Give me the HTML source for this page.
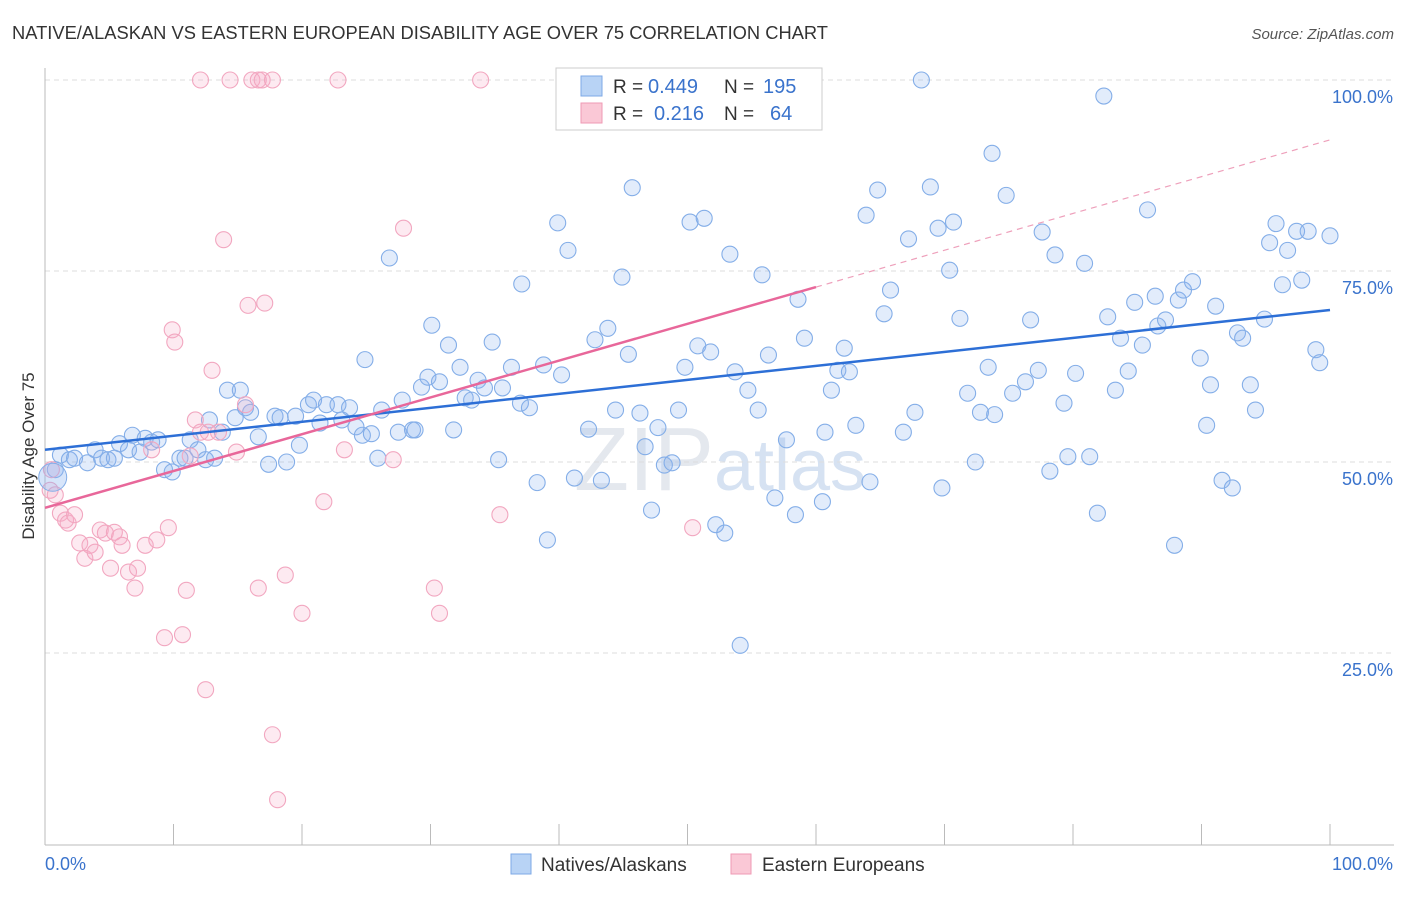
<!DOCTYPE html>
<html><head><meta charset="utf-8"><style>
body{margin:0;background:#fff;font-family:"Liberation Sans",sans-serif}
svg text{font-family:"Liberation Sans",sans-serif}
</style></head><body>
<svg id="chart" width="1406" height="892" xmlns="http://www.w3.org/2000/svg">
<text x="12" y="39" font-size="18" fill="#333" textLength="816" lengthAdjust="spacingAndGlyphs">NATIVE/ALASKAN VS EASTERN EUROPEAN DISABILITY AGE OVER 75 CORRELATION CHART</text>
<text x="1394" y="39" font-size="15" fill="#555" text-anchor="end" font-style="italic">Source: ZipAtlas.com</text>
<text x="720" y="490" font-size="90" fill="#e4e8ee" text-anchor="middle" font-family="Liberation Serif">ZIP<tspan fill="#d6e2f2" font-family="Liberation Sans" font-size="72">atlas</tspan></text>
<g id="grid"></g>
<g id="axes"></g>
<g id="pts"></g>
<g id="lines"></g>
<text transform="translate(34,456) rotate(-90)" font-size="17" fill="#333" text-anchor="middle">Disability Age Over 75</text>
<g>
<rect x="556" y="68" width="266" height="62" fill="#fff" stroke="#ccc"/>
<rect x="581" y="76" width="21" height="20" fill="#b8d3f5" stroke="#7ea8e6"/>
<rect x="581" y="103" width="21" height="20" fill="#fac8d6" stroke="#ef9ab4"/>
<text x="613" y="93" font-size="19" fill="#333">R =</text>
<text x="648" y="93" font-size="20" fill="#3a73cc">0.449</text>
<text x="724" y="93" font-size="19" fill="#333">N =</text>
<text x="763" y="93" font-size="20" fill="#3a73cc">195</text>
<text x="613" y="120" font-size="19" fill="#333">R =</text>
<text x="654" y="120" font-size="20" fill="#3a73cc">0.216</text>
<text x="724" y="120" font-size="19" fill="#333">N =</text>
<text x="770" y="120" font-size="20" fill="#3a73cc">64</text>
</g>
<g>
<rect x="511" y="854" width="20" height="20" fill="#b8d3f5" stroke="#7ea8e6"/>
<text x="541" y="871" font-size="19" fill="#333">Natives/Alaskans</text>
<rect x="731" y="854" width="20" height="20" fill="#fac8d6" stroke="#ef9ab4"/>
<text x="762" y="871" font-size="19" fill="#333">Eastern Europeans</text>
</g>
</svg>
<script>
const blueX=[0.8,1.2,1.9,2.3,3.3,3.9,4.4,4.9,5.4,5.8,6.5,6.8,7.4,7.8,8.3,8.8,9.3,9.9,10.5,10.9,11.3,11.9,12.5,12.8,13.2,13.8,14.2,14.8,15.2,15.6,16.0,16.6,17.4,17.9,18.3,18.8,19.5,19.8,20.5,20.9,21.4,21.9,22.8,23.1,23.7,24.2,24.7,24.9,25.4,25.9,26.2,26.8,27.5,27.8,28.6,28.8,29.3,29.8,30.1,30.7,31.4,31.8,32.3,32.7,33.2,33.7,34.2,34.8,35.3,35.6,36.3,37.0,37.1,37.7,38.3,38.8,39.1,39.9,40.2,40.7,41.2,42.3,42.8,43.3,43.8,44.4,44.9,45.4,45.7,46.3,46.7,47.2,47.7,48.2,48.8,49.3,49.8,50.2,50.8,51.3,51.8,52.2,52.9,53.3,53.7,54.1,54.7,55.5,55.8,56.3,56.8,57.7,58.4,58.6,59.1,60.5,60.7,61.2,61.7,62.2,62.6,63.1,63.9,64.2,64.8,65.3,65.8,66.8,67.2,67.7,68.2,68.9,69.5,69.8,70.4,70.7,71.2,71.8,72.4,72.8,73.4,73.9,73.7,74.8,75.3,76.3,76.7,77.3,77.6,78.2,78.6,79.3,79.6,80.2,80.9,81.3,81.9,82.4,82.7,83.3,83.7,84.3,84.8,85.4,85.8,86.4,86.6,87.2,87.9,88.2,88.6,89.3,89.9,90.4,90.7,91.1,91.6,92.4,92.8,93.2,93.8,94.2,94.9,95.3,95.8,96.3,96.7,97.4,97.8,98.3,98.9,99.2,100];
const blueY=[49.0,50.9,50.3,50.5,49.9,51.6,50.5,50.3,50.5,52.4,51.6,53.5,51.3,53.1,52.6,52.9,49.0,48.7,50.5,50.5,52.9,51.6,50.3,55.5,50.5,53.9,59.4,55.8,59.4,57.1,56.5,53.3,49.7,56.0,55.8,50.0,56.0,52.2,57.5,58.1,55.1,57.5,57.5,55.5,57.1,54.6,53.5,63.4,53.7,50.5,56.8,76.7,53.9,58.1,54.2,54.2,59.8,61.1,67.9,60.5,65.3,54.2,62.4,58.4,58.1,60.7,59.7,65.7,50.3,59.7,62.4,57.7,73.3,57.1,47.3,62.7,39.8,81.3,61.4,77.7,47.9,54.3,66.0,47.6,67.5,56.8,74.2,64.1,85.9,56.4,52.0,43.7,54.5,49.6,49.9,56.8,62.4,81.4,65.2,81.9,64.4,41.8,40.7,77.2,61.8,26.0,59.4,56.8,74.5,64.0,45.3,52.9,43.1,71.3,66.2,44.8,53.9,59.4,62.0,64.9,61.8,54.8,82.3,47.4,85.6,69.4,72.5,53.9,79.2,56.5,100,86.0,80.6,46.6,75.1,81.4,68.8,59.0,50.0,56.5,62.4,56.2,90.4,84.9,59.0,60.5,68.6,62.0,80.1,48.8,77.1,57.7,50.7,61.6,76.0,50.7,43.3,97.9,69.0,59.4,66.2,61.9,70.9,65.3,83.0,71.7,67.8,68.6,39.1,71.2,72.5,73.6,63.6,54.8,60.1,70.4,47.6,46.6,66.9,66.2,60.1,56.8,68.7,78.7,81.2,73.2,77.7,80.2,73.8,80.2,64.7,63.0,79.6];
const pinkX=[0.4,0.5,0.8,1.2,1.6,1.8,2.3,2.7,3.1,3.5,3.9,4.3,4.7,5.1,5.4,5.8,6.0,6.5,7.0,7.2,7.8,8.3,8.7,9.3,9.6,9.9,10.1,10.7,11.0,11.3,11.7,12.1,12.5,12.7,13.0,13.5,13.9,14.9,15.6,15.8,16.6,17.1,17.7,18.1,18.7,20.0,21.7,23.3,27.1,27.9,30.3,30.7,35.4,50.4,12.1,14.4,16.1,16.6,16.9,17.7,22.8,33.9];
const pinkY=[46.3,49.0,45.7,43.3,42.4,42.0,43.1,39.4,37.4,39.1,38.2,41.1,40.7,36.1,40.8,40.2,39.1,35.6,33.5,36.1,39.1,51.6,39.8,27.0,41.4,67.3,65.7,27.4,33.2,50.8,55.5,53.9,20.2,53.9,62.0,53.9,79.1,51.3,57.5,70.5,33.5,70.8,14.3,5.8,35.2,30.2,44.8,51.6,50.3,80.6,33.5,30.2,43.1,41.4,100,100,100,100,100,100,100,100];
const yTicks=[25,50,75,100];
const yTickLabels=["25.0%","50.0%","75.0%","100.0%"];
const xTicks=[0,10,20,30,40,50,60,70,80,90,100];
const blueTrend=[51.6,69.9];
const pinkTrend=[44.0,72.9,60];
const NS="http://www.w3.org/2000/svg";
const X0=45,X1=1330,Y0=844,Y1=80;
const sx=v=>X0+(X1-X0)*v/100;
const sy=v=>Y0-(Y0-Y1)*v/100;
function mk(tag,attrs,parent){const e=document.createElementNS(NS,tag);for(const k in attrs)e.setAttribute(k,attrs[k]);parent.appendChild(e);return e;}
const grid=document.getElementById('grid'),axes=document.getElementById('axes'),pts=document.getElementById('pts'),lines=document.getElementById('lines');
yTicks.forEach((t,i)=>{
 const l=mk('line',{x1:X0,x2:1394,y1:sy(t),y2:sy(t),stroke:'#ddd','stroke-dasharray':'5,4'},grid);
 
 
 const tx=mk('text',{x:1393,y:sy(t)+23,'font-size':18,fill:'#3a73cc','text-anchor':'end'},axes);
 tx.textContent=yTickLabels[i];
 
 
});
const ax=mk('line',{x1:X0,x2:1394,y1:Y0+1,y2:Y0+1,stroke:'#bbb'},axes);


const ay=mk('line',{x1:X0,x2:X0,y1:68,y2:Y0+1,stroke:'#bbb'},axes);


xTicks.forEach(t=>{
 const l=mk('line',{x1:sx(t),x2:sx(t),y1:Y0-20,y2:Y0+1,stroke:'#bbb'},axes);
 
 
});
const xl0=mk('text',{x:45,y:870,'font-size':18,fill:'#3a73cc'},axes);xl0.textContent='0.0%';


const xl1=mk('text',{x:1393,y:870,'font-size':18,fill:'#3a73cc','text-anchor':'end'},axes);xl1.textContent='100.0%';


blueX.forEach((v,i)=>{
 const c=mk('circle',{cx:sx(v),cy:sy(blueY[i]),r:8,fill:'rgba(140,180,240,0.25)',stroke:'#84aee8','stroke-width':1.1},pts);
 
 
});
pinkX.forEach((v,i)=>{
 const c=mk('circle',{cx:sx(v),cy:sy(pinkY[i]),r:8,fill:'rgba(248,170,198,0.25)',stroke:'#f2a7c0','stroke-width':1.1},pts);
 
 
});
const big=mk('circle',{cx:sx(0.6),cy:sy(48),r:14,fill:'rgba(140,180,240,0.35)',stroke:'#84aee8'},pts);


const bl=mk('line',{x1:sx(0),y1:sy(blueTrend[0]),x2:sx(100),y2:sy(blueTrend[1]),stroke:'#2d6fd6','stroke-width':2.5},lines);


const slope=(pinkTrend[1]-pinkTrend[0])/pinkTrend[2];
const pl=mk('line',{x1:sx(0),y1:sy(pinkTrend[0]),x2:sx(pinkTrend[2]),y2:sy(pinkTrend[1]),stroke:'#e8679a','stroke-width':2.5},lines);


const pd=mk('line',{x1:sx(pinkTrend[2]),y1:sy(pinkTrend[1]),x2:sx(100),y2:sy(pinkTrend[0]+slope*100),stroke:'#eea0bb','stroke-width':1.2,'stroke-dasharray':'6,5'},lines);


</script>
</body></html>
